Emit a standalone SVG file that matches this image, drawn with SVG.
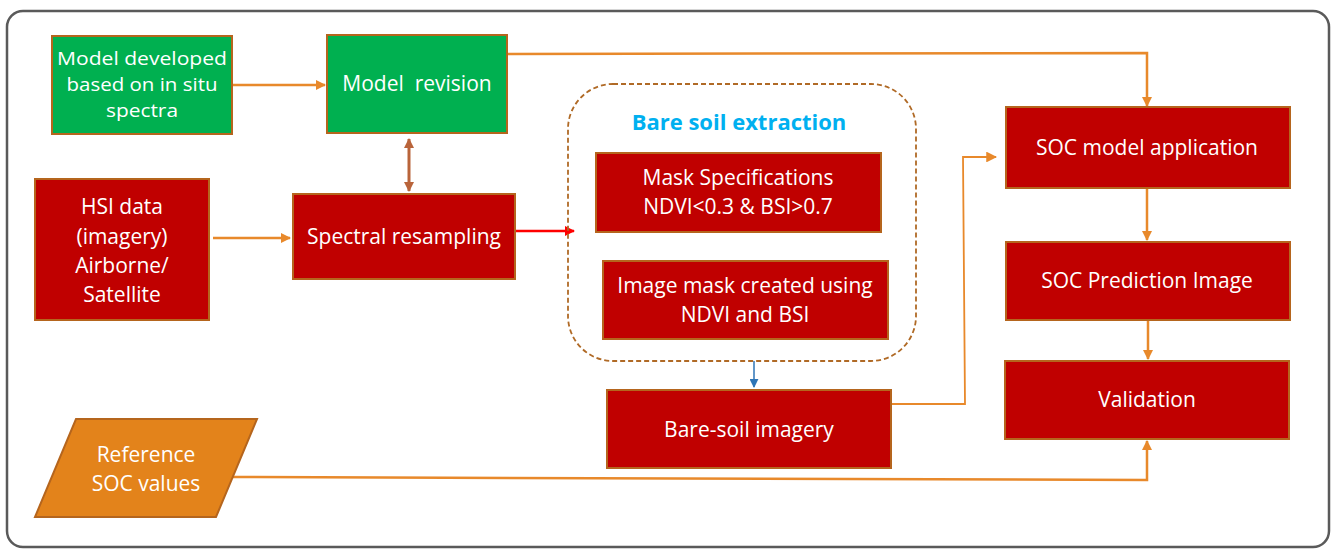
<svg xmlns="http://www.w3.org/2000/svg" width="1340" height="554" viewBox="0 0 1340 554">
<defs>
<style>
.box{stroke:#B5651D;stroke-width:2}
.red{fill:#C00000}
.green{fill:#00B050}
.t{font-family:"Open Sans","Liberation Sans",sans-serif;font-size:21px;fill:#FFFFFF;text-anchor:middle}
.s{font-size:19px}
.c{fill:none;stroke:#E8892B;stroke-width:2.5}
.thin{fill:none;stroke:#E8892B;stroke-width:1.8}
</style>
<marker id="ao" viewBox="0 0 10 10" refX="9" refY="5" markerWidth="4" markerHeight="4" orient="auto-start-reverse"><path d="M0,0L10,5L0,10z" fill="#E8892B"/></marker>
<marker id="ao2" viewBox="0 0 10 10" refX="9" refY="5" markerWidth="6" markerHeight="6" orient="auto-start-reverse"><path d="M0,0L10,5L0,10z" fill="#E8892B"/></marker>
<marker id="ar" viewBox="0 0 10 10" refX="9" refY="5" markerWidth="4" markerHeight="4" orient="auto"><path d="M0,0L10,5L0,10z" fill="#FF0000"/></marker>
<marker id="ab" viewBox="0 0 10 10" refX="9" refY="5" markerWidth="6" markerHeight="6" orient="auto"><path d="M0,0L10,5L0,10z" fill="#2E75B6"/></marker>
<marker id="abr" viewBox="0 0 10 10" refX="9" refY="5" markerWidth="3.5" markerHeight="3.5" orient="auto-start-reverse"><path d="M0,0L10,5L0,10z" fill="#B9643A"/></marker>
</defs>
<rect width="1340" height="554" fill="#FFFFFF"/>
<rect id="frame" x="7" y="11" width="1322" height="536" rx="16" fill="none" stroke="#5A5A5A" stroke-width="2.5"/>

<g id="connectors">
<path class="c" d="M232,85 L325,85" marker-end="url(#ao)"/>
<path class="c" d="M213,238 L290,238" marker-end="url(#ao)"/>
<path d="M510,231 L574,231" fill="none" stroke="#FF0000" stroke-width="2.5" marker-end="url(#ar)"/>
<path d="M409,139 L409,191" fill="none" stroke="#B9643A" stroke-width="3" marker-start="url(#abr)" marker-end="url(#abr)"/>
<path class="c" d="M507,54 L1147,53 L1147,106" marker-end="url(#ao)"/>
<path class="thin" d="M891,404 L965,404 L963,157 L996,157" marker-end="url(#ao2)"/>
<path d="M754,361 L754,387" fill="none" stroke="#2E75B6" stroke-width="1.5" marker-end="url(#ab)"/>
<path class="c" d="M1147,188 L1147,240" marker-end="url(#ao)"/>
<path class="c" d="M1148,320 L1148,359" marker-end="url(#ao)"/>
<path class="c" d="M231,477 L1147,480 L1147,441" marker-end="url(#ao)"/>
</g>

<g id="n-model-dev">
<rect class="box green" x="52" y="36" width="180" height="98"/>
<text class="t s" x="142" y="65" textLength="170" lengthAdjust="spacingAndGlyphs">Model developed</text>
<text class="t s" x="142" y="91" textLength="151" lengthAdjust="spacingAndGlyphs">based on in situ</text>
<text class="t s" x="142" y="117" textLength="72" lengthAdjust="spacingAndGlyphs">spectra</text>
</g>

<g id="n-model-rev">
<rect class="box green" x="327" y="35" width="180" height="98"/>
<text class="t" x="417" y="91" xml:space="preserve">Model  revision</text>
</g>

<g id="n-hsi">
<rect class="box red" x="35" y="179" width="174" height="141"/>
<text class="t" x="122" y="214">HSI data</text>
<text class="t" x="122" y="244">(imagery)</text>
<text class="t" x="122" y="273">Airborne/</text>
<text class="t" x="122" y="302">Satellite</text>
</g>

<g id="n-spectral">
<rect class="box red" x="293" y="194" width="222" height="85"/>
<text class="t" x="404" y="244">Spectral resampling</text>
</g>

<g id="g-bare-soil">
<rect x="568" y="84" width="348" height="277" rx="45" fill="none" stroke="#B06A26" stroke-width="1.8" stroke-dasharray="5,3"/>
<text x="739" y="130" font-family="'Open Sans','Liberation Sans',sans-serif" font-size="22" font-weight="bold" fill="#00B0F0" text-anchor="middle">Bare soil extraction</text>
</g>

<g id="n-mask-spec">
<rect class="box red" x="596" y="153" width="285" height="79"/>
<text class="t" x="738" y="185">Mask Specifications</text>
<text class="t" x="738" y="214">NDVI&lt;0.3 &amp; BSI&gt;0.7</text>
</g>

<g id="n-image-mask">
<rect class="box red" x="603" y="261" width="285" height="78"/>
<text class="t" x="745" y="293">Image mask created using</text>
<text class="t" x="745" y="322">NDVI and BSI</text>
</g>

<g id="n-bare-imagery">
<rect class="box red" x="607" y="390" width="284" height="78"/>
<text class="t" x="749" y="437">Bare-soil imagery</text>
</g>

<g id="n-soc-app">
<rect class="box red" x="1006" y="107" width="284" height="81"/>
<text class="t" x="1147" y="155">SOC model application</text>
</g>

<g id="n-soc-pred">
<rect class="box red" x="1006" y="242" width="284" height="78"/>
<text class="t" x="1147" y="288">SOC Prediction Image</text>
</g>

<g id="n-validation">
<rect class="box red" x="1005" y="361" width="284" height="78"/>
<text class="t" x="1147" y="407">Validation</text>
</g>

<g id="n-reference">
<polygon points="76,419 257,419 216,517 35,517" fill="#E3831B" stroke="#B5651D" stroke-width="2"/>
<text class="t" x="146" y="462">Reference</text>
<text class="t" x="146" y="491">SOC values</text>
</g>
</svg>
